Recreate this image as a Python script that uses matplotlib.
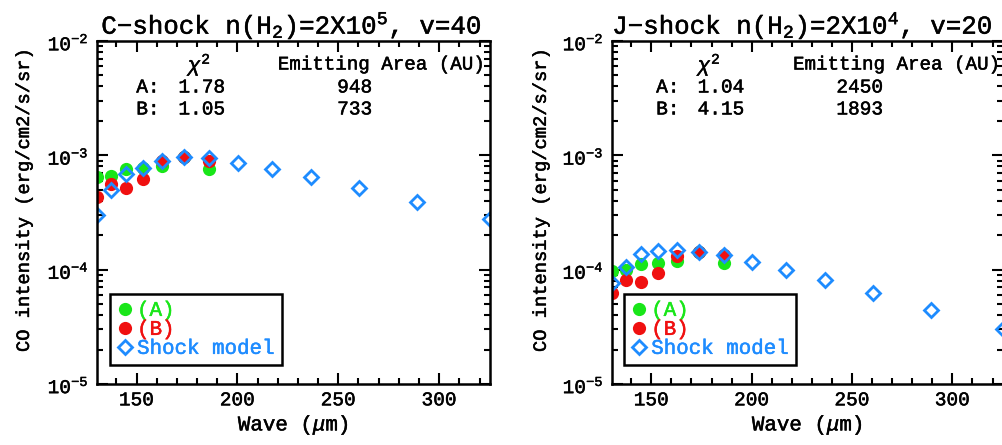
import matplotlib
matplotlib.use("Agg")
import matplotlib.pyplot as plt
import matplotlib.patheffects as pe
from matplotlib.text import Text
from matplotlib.ticker import LogLocator, MultipleLocator, NullFormatter

plt.rcParams['font.family'] = ['Liberation Mono', 'DejaVu Serif']
plt.rcParams['mathtext.fontset'] = 'custom'
plt.rcParams['mathtext.rm'] = 'Liberation Mono'
plt.rcParams['mathtext.it'] = 'Liberation Mono:italic'
plt.rcParams['mathtext.bf'] = 'Liberation Mono:bold'

# CO line wavelengths (micron)
obs_wave = [130.4, 137.2, 144.8, 153.3, 162.8, 173.6, 186.0]
model_wave = [130.4, 137.2, 144.8, 153.3, 162.8, 173.6, 186.0, 200.3, 216.9, 236.6, 260.2, 289.1, 325.2]

# Left panel: C-shock
c_A = [6.5e-4, 6.6e-4, 7.6e-4, 7.7e-4, 8.1e-4, 9.6e-4, 7.6e-4]
c_B = [4.3e-4, 5.6e-4, 5.2e-4, 6.2e-4, 8.9e-4, 9.6e-4, 8.9e-4]
c_model = [3.0e-4, 4.97e-4, 6.85e-4, 7.7e-4, 9.0e-4, 9.6e-4, 9.46e-4, 8.6e-4, 7.6e-4, 6.4e-4, 5.2e-4, 3.9e-4, 2.75e-4]

# Right panel: J-shock
j_A = [9.8e-5, 9.9e-5, 1.11e-4, 1.15e-4, 1.2e-4, 1.42e-4, 1.15e-4]
j_B = [6.3e-5, 8.2e-5, 7.8e-5, 9.3e-5, 1.31e-4, 1.42e-4, 1.34e-4]
j_model = [7.6e-5, 1.06e-4, 1.36e-4, 1.45e-4, 1.48e-4, 1.42e-4, 1.34e-4, 1.16e-4, 9.9e-5, 8.1e-5, 6.2e-5, 4.4e-5, 3.0e-5]

titles = [r'C$-$shock n(H$_2$)=2X10$^5$, v=40', r'J$-$shock n(H$_2$)=2X10$^4$, v=20']
chi2 = [["1.78", "1.05"], ["1.04", "4.15"]]
areas = [["948", "733"], ["2450", "1893"]]

GREEN = '#19e619'
RED = '#f01010'
BLUE = '#1e8cff'

W, H = 1002, 445
fig = plt.figure(figsize=(W / 100, H / 100), dpi=100)

# axes pixel boxes (left, right, top, bottom)
boxes = [(97, 490, 41, 384), (612, 1003, 41, 384)]
txtpos = [dict(chi=0.262, num=0.267, area=0.46, lab=0.10, anum=0.656, title=0.496),
          dict(chi=0.250, num=0.279, area=0.463, lab=0.113, anum=0.634, title=0.488)]
legpos = [(0.033, 0.055), (0.031, 0.055)]
ylab_x = [-0.163, -0.159]

for i, (l, r, t, b) in enumerate(boxes):
    ax = fig.add_axes([l / W, 1 - b / H, (r - l) / W, (b - t) / H])
    if i == 0:
        A, B, M = c_A, c_B, c_model
    else:
        A, B, M = j_A, j_B, j_model
    ax.plot(obs_wave, A, 'o', color=GREEN, ms=9.5, mec='none', label='(A)')
    ax.plot(obs_wave, B, 'o', color=RED, ms=9.5, mec='none', label='(B)')
    ax.plot(model_wave, M, 'D', mfc='none', mec=BLUE, ms=7, mew=2, label='Shock model')
    ax.set_yscale('log')
    ax.set_xlim(130.4, 325.2)
    ax.set_ylim(1e-5, 1e-2)
    ax.xaxis.set_major_locator(MultipleLocator(50))
    ax.xaxis.set_minor_locator(MultipleLocator(10))
    ax.yaxis.set_major_locator(LogLocator(base=10, numticks=10))
    ax.yaxis.set_minor_locator(LogLocator(base=10, subs=range(2, 10), numticks=20))
    ax.yaxis.set_minor_formatter(NullFormatter())
    ax.tick_params(which='both', direction='in', top=True, right=True, labelsize=14, width=1.5)
    ax.tick_params(which='major', length=8, pad=6)
    ax.tick_params(which='minor', length=4)
    for s in ax.spines.values():
        s.set_linewidth(1.8)
    p = txtpos[i]
    ax.set_title(titles[i], fontsize=18.6, pad=2, x=p['title'])
    ax.set_xlabel(r'Wave ($\mu$m)', fontsize=15, labelpad=3)
    ax.set_ylabel('CO intensity (erg/cm2/s/sr)', fontsize=13.5)
    ax.yaxis.set_label_coords(ylab_x[i], 0.536)

    ax.text(p['chi'], 0.93, r'$\chi^2$', transform=ax.transAxes, ha='center', va='center', fontsize=15)
    ax.text(p['area'], 0.93, 'Emitting Area (AU)', transform=ax.transAxes, ha='left', va='center', fontsize=13.8)
    for k, (lab, yy) in enumerate([('A:', 0.863), ('B:', 0.799)]):
        ax.text(p['lab'], yy, lab, transform=ax.transAxes, ha='left', va='center', fontsize=14)
        ax.text(p['num'], yy, chi2[i][k], transform=ax.transAxes, ha='center', va='center', fontsize=14)
        ax.text(p['anum'], yy, areas[i][k], transform=ax.transAxes, ha='center', va='center', fontsize=14)

    leg = ax.legend(loc='lower left', bbox_to_anchor=legpos[i], borderaxespad=0,
                    fancybox=False, edgecolor='black', framealpha=1, fontsize=15,
                    handlelength=0.7, handletextpad=0.25, labelspacing=0.0,
                    borderpad=0.35, labelcolor=[GREEN, RED, BLUE])
    leg.get_frame().set_linewidth(1.8)

for t in fig.findobj(Text):
    t.set_path_effects([pe.Stroke(linewidth=0.35), pe.Normal()])

fig.savefig('out.png', dpi=100)
